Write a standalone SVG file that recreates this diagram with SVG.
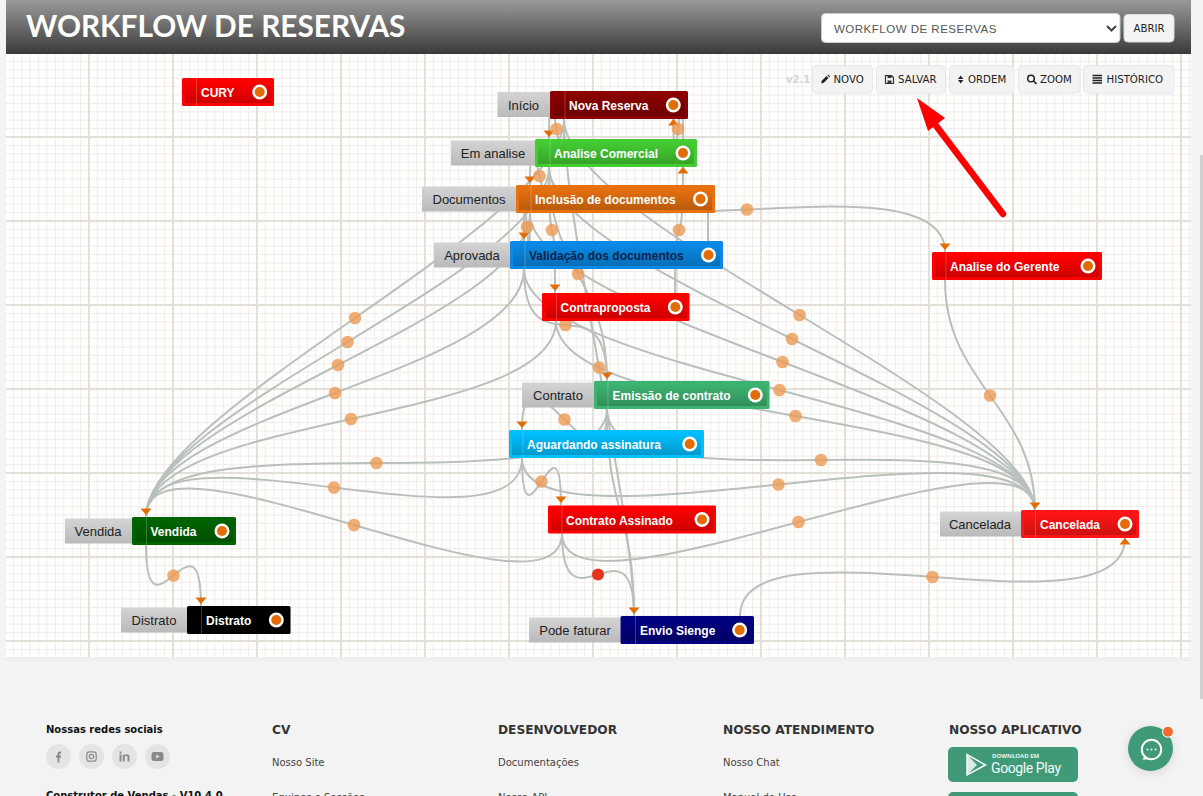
<svg xmlns="http://www.w3.org/2000/svg" width="1203" height="796" viewBox="0 0 1203 796">
<style>
.e{fill:none;stroke:#b9c0bb;stroke-width:2}
.d{marker-end:url(#ad)}
.u{marker-end:url(#au)}
.o{fill:#ec9a55;fill-opacity:.8}
.n{font:bold 12px "Liberation Sans",Arial,sans-serif;fill:#fff}
.l{font:13px "Liberation Sans",Arial,sans-serif;fill:#222;text-anchor:middle}
.lb{fill:url(#lg)}
.sh{fill:url(#sg)}
.vl{fill:#fff;fill-opacity:.22}
.w{fill:#fff}
.c{fill:#e36c04}
.b{fill:#f3f3f3;stroke:#e7e7e7}
.t{font:10.2px "DejaVu Sans",Verdana,sans-serif;fill:#222}
.h{font:bold 12.2px "DejaVu Sans",Verdana,sans-serif;fill:#333}
.f{font:10px "DejaVu Sans",Verdana,sans-serif;fill:#444}
.s{fill:#e4e4e4}
.si{fill:#8a8a8a}
</style>
<defs>
<pattern id="grid" patternUnits="userSpaceOnUse" x="4" y="52" width="84" height="84">
<rect width="84" height="84" fill="#fff"/>
<path d="M9.400 0V84M17.800 0V84M26.200 0V84M34.600 0V84M43 0V84M51.400 0V84M59.800 0V84M68.200 0V84M76.600 0V84M0 9.400H84M0 17.800H84M0 26.200H84M0 34.600H84M0 43H84M0 51.400H84M0 59.800H84M0 68.200H84M0 76.600H84" fill="none" stroke="#f1edea" stroke-width="1"/>
<path d="M1 0V84M0 1H84" fill="none" stroke="#e5dfda" stroke-width="2"/>
</pattern>
<linearGradient id="hg" x1="0" y1="0" x2="0" y2="1"><stop offset="0" stop-color="#9a9a9a"/><stop offset="1" stop-color="#3a3a3a"/></linearGradient>
<linearGradient id="lg" x1="0" y1="0" x2="0" y2="1"><stop offset="0" stop-color="#d4d4d4"/><stop offset="1" stop-color="#bababa"/></linearGradient>
<linearGradient id="sg" x1="0" y1="0" x2="0" y2="1"><stop offset="0" stop-color="#000" stop-opacity="0"/><stop offset="1" stop-color="#000" stop-opacity=".2"/></linearGradient>
<marker id="ad" markerUnits="userSpaceOnUse" markerWidth="6.500" markerHeight="11" refX="8.500" refY="5.500" orient="auto" overflow="visible"><path d="M0 0L6.500 5.500L0 11z" fill="#e36c04"/></marker>
<marker id="au" markerUnits="userSpaceOnUse" markerWidth="6.500" markerHeight="11" refX="6.500" refY="5.500" orient="auto" overflow="visible"><path d="M0 0L6.500 5.500L0 11z" fill="#e36c04"/></marker>
<filter id="sd" x="-40%" y="-40%" width="180%" height="180%"><feDropShadow dx="0" dy="2" stdDeviation="5" flood-color="#000" flood-opacity=".12"/></filter>
</defs>
<rect width="1203" height="796" fill="#f3f3f3"/>
<rect x="6" y="54" width="1185" height="603" fill="url(#grid)"/>
<rect x="6" y="657" width="1185" height="4" fill="#f0eeec"/>
<rect x="1200" y="155" width="3" height="544" fill="#d0d0d0"/>

<g id="header">
<rect x="6" y="0" width="1185" height="54" fill="url(#hg)"/>
<text x="26" y="37" style="font:bold 29.800px Lato,'Liberation Sans',sans-serif" fill="#fff">WORKFLOW DE RESERVAS</text>
<rect x="821.500" y="13.500" width="298.500" height="29" rx="4" fill="#fff" stroke="#ccc"/>
<text x="834" y="33" style="font:11.500px 'Liberation Sans',Arial,sans-serif;letter-spacing:.5px" fill="#555">WORKFLOW DE RESERVAS</text>
<path d="M1107 26l4.500 4.500l4.500-4.500" fill="none" stroke="#444" stroke-width="2"/>
<rect x="1124" y="14.500" width="50" height="27.500" rx="4" fill="#f4f4f4" stroke="#ddd"/>
<text x="1149" y="32" class="t" text-anchor="middle">ABRIR</text>
</g>

<g id="toolbar">
<text x="786" y="83" style="font:bold 10px 'DejaVu Sans',Verdana,sans-serif" fill="#d4d4d4">v2.1</text>
<rect class="b" x="812.500" y="65.500" width="60" height="27.500" rx="4"/>
<path d="M821 83.500l.8-2.800l4.700-4.700l2 2l-4.700 4.700zM827.300 75.200l.8-.8l2 2l-.8.8z" fill="#222"/>
<text class="t" x="833.500" y="83">NOVO</text>
<rect class="b" x="876.500" y="65.500" width="69" height="27.500" rx="4"/>
<path d="M885.500 75.500h6l2 2v6h-8z" fill="none" stroke="#333" stroke-width="1.200"/><rect x="887.500" y="75.500" width="4" height="2.500" fill="#333"/><rect x="887.500" y="80.500" width="4" height="3" fill="#333"/>
<text class="t" x="898" y="83">SALVAR</text>
<rect class="b" x="949.500" y="65.500" width="64.500" height="27.500" rx="4"/>
<path d="M958 79l2.700-3.500l2.700 3.500zM958 80l2.700 3.500l2.700-3.500z" fill="#222"/>
<text class="t" x="968" y="83">ORDEM</text>
<rect class="b" x="1018.500" y="65.500" width="61.500" height="27.500" rx="4"/>
<circle cx="1031" cy="78.500" r="3.300" fill="none" stroke="#222" stroke-width="1.500"/><path d="M1033.500 81l3 3" stroke="#222" stroke-width="1.700"/>
<text class="t" x="1040" y="83">ZOOM</text>
<rect class="b" x="1083.500" y="65.500" width="90.500" height="27.500" rx="4"/>
<path d="M1092.500 75.500h9.500M1092.500 78h9.500M1092.500 80.500h9.500M1092.500 83h9.500" stroke="#222" stroke-width="1.500"/>
<text class="t" x="1106.500" y="83">HISTÓRICO</text>
</g>

<g id="connectors">
<path class="e" d="M564 119C564 224 146 412 146 517"/>
<path class="e" d="M549 167C549 272 146 412 146 517"/>
<path class="e" d="M530 213C530 318 146 412 146 517"/>
<path class="e" d="M524 269C524 374 146 412 146 517"/>
<path class="e" d="M556 321C556 426 146 412 146 517"/>
<path class="e" d="M607 409C607 514 146 412 146 517"/>
<path class="e" d="M522 458C522 563 146 412 146 517"/>
<path class="e d" d="M562 533C562 638 146 412 146 517"/>
<path class="e" d="M564 119C564 224 1035 406 1035 511"/>
<path class="e" d="M549 167C549 272 1035 406 1035 511"/>
<path class="e" d="M530 213C530 318 1035 406 1035 511"/>
<path class="e" d="M524 269C524 374 1035 406 1035 511"/>
<path class="e" d="M556 321C556 426 1035 406 1035 511"/>
<path class="e" d="M607 409C607 514 1035 406 1035 511"/>
<path class="e" d="M522 458C522 563 1035 406 1035 511"/>
<path class="e" d="M562 533C562 638 1035 406 1035 511"/>
<path class="e d" d="M945 280C945 385 1035 406 1035 511"/>
<path class="e u" d="M740 616C740 511 1125 643 1125 538"/>
<path class="e d" d="M564 119C564 224 549 34 549 139"/>
<path class="e d" d="M549 167C549 272 530 80 530 185"/>
<path class="e d" d="M530 213C530 318 524 136 524 241"/>
<path class="e d" d="M549 167C549 272 555 188 555 293"/>
<path class="e" d="M549 167C549 272 607 276 607 381"/>
<path class="e d" d="M524 269C524 374 607 276 607 381"/>
<path class="e d" d="M607 409C607 514 522 325 522 430"/>
<path class="e d" d="M522 458C522 563 561 400 561 505"/>
<path class="e" d="M564 119C564 224 634 511 634 616"/>
<path class="e" d="M607 409C607 514 634 511 634 616"/>
<path class="e d" d="M562 533C562 638 634 511 634 616"/>
<path class="e d" d="M146 545C146 650 201 501 201 606"/>
<path class="e d" d="M549 167C549 272 945 147 945 252"/>
<path class="e u" d="M683 139C683 34 673.500 224 673.500 119"/>
<path class="e u" d="M675 293C675 188 683 272 683 167"/>
<path class="e" d="M708 213V241"/>
<g id="connector-dots">
<circle class="o" cx="556.500" cy="129" r="6.300"/><circle class="o" cx="539.500" cy="176" r="6.300"/><circle class="o" cx="527" cy="227" r="6.300"/><circle class="o" cx="552" cy="230" r="6.300"/><circle class="o" cx="578" cy="274" r="6.300"/><circle class="o" cx="565.500" cy="325" r="6.300"/><circle class="o" cx="599" cy="367.500" r="6.300"/><circle class="o" cx="564.500" cy="419.500" r="6.300"/><circle class="o" cx="541.500" cy="481.500" r="6.300"/>
<circle class="o" cx="678" cy="129" r="6.300"/><circle class="o" cx="679" cy="230" r="6.300"/><circle class="o" cx="747" cy="209.500" r="6.300"/><circle class="o" cx="990" cy="395.500" r="6.300"/><circle class="o" cx="173.500" cy="575.500" r="6.300"/><circle class="o" cx="932.500" cy="577" r="6.300"/>
<circle class="o" cx="355" cy="318" r="6.300"/><circle class="o" cx="347.500" cy="342" r="6.300"/><circle class="o" cx="338" cy="365" r="6.300"/><circle class="o" cx="335" cy="393" r="6.300"/><circle class="o" cx="351" cy="419" r="6.300"/><circle class="o" cx="376.500" cy="463" r="6.300"/><circle class="o" cx="334" cy="487.500" r="6.300"/><circle class="o" cx="354" cy="525" r="6.300"/>
<circle class="o" cx="799.500" cy="315" r="6.300"/><circle class="o" cx="792" cy="339" r="6.300"/><circle class="o" cx="782.500" cy="362" r="6.300"/><circle class="o" cx="779.500" cy="390" r="6.300"/><circle class="o" cx="795.500" cy="416" r="6.300"/><circle class="o" cx="821" cy="460" r="6.300"/><circle class="o" cx="778.500" cy="484.500" r="6.300"/><circle class="o" cx="798.500" cy="522" r="6.300"/>
<circle cx="598" cy="574.500" r="6" fill="#e5341a"/>
</g>
</g>

<g id="node-cury"><rect x="182" y="78" width="92" height="28" rx="1.500" fill="#f00"/><rect class="sh" x="185" y="81" width="86" height="22"/><rect class="vl" x="196" y="78" width="1" height="28"/><text class="n" x="201" y="96.500">CURY</text><circle class="w" cx="259.700" cy="92" r="7.500"/><circle class="c" cx="259.700" cy="92" r="5"/></g>

<g id="node-nova-reserva"><rect class="lb" x="497.500" y="92" width="52.500" height="25"/><text class="l" x="523.500" y="110">Início</text><rect x="550" y="91" width="138" height="28" rx="1.500" fill="#8b0000"/><rect class="sh" x="553" y="94" width="132" height="22"/><rect class="vl" x="564.500" y="91" width="1" height="28"/><text class="n" x="569" y="109.500">Nova Reserva</text><circle class="w" cx="673.300" cy="105" r="7.500"/><circle class="c" cx="673.300" cy="105" r="5"/></g>

<g id="node-analise-comercial"><rect class="lb" x="451" y="140.500" width="84" height="25"/><text class="l" x="493" y="158">Em analise</text><rect x="535" y="139" width="162" height="28" rx="1.500" fill="#44cc33"/><rect class="sh" x="538" y="142" width="156" height="22"/><rect class="vl" x="549.500" y="139" width="1" height="28"/><text class="n" x="554" y="157.500">Analise Comercial</text><circle class="w" cx="683" cy="153" r="7.500"/><circle class="c" cx="683" cy="153" r="5"/></g>

<g id="node-inclusao"><rect class="lb" x="422" y="186.500" width="94" height="25"/><text class="l" x="469" y="204">Documentos</text><rect x="516" y="185" width="199" height="28" rx="1.500" fill="#e8710f"/><rect class="sh" x="519" y="188" width="193" height="22"/><rect class="vl" x="530.500" y="185" width="1" height="28"/><text class="n" x="535" y="203.500">Inclusão de documentos</text><circle class="w" cx="700.500" cy="199" r="7.500"/><circle class="c" cx="700.500" cy="199" r="5"/></g>

<g id="node-validacao"><rect class="lb" x="434" y="242.500" width="76" height="25"/><text class="l" x="472" y="260">Aprovada</text><rect x="510" y="241" width="213" height="28" rx="1.500" fill="#0a8ae6"/><rect class="sh" x="513" y="244" width="207" height="22"/><rect class="vl" x="524.500" y="241" width="1" height="28"/><text class="n" x="529" y="259.500" style="fill:#07244a">Validação dos documentos</text><circle class="w" cx="708.500" cy="255" r="7.500"/><circle class="c" cx="708.500" cy="255" r="5"/></g>

<g id="node-contraproposta"><rect x="542" y="293" width="147.500" height="28" rx="1.500" fill="#f00"/><rect class="sh" x="545" y="296" width="141.500" height="22"/><rect class="vl" x="556" y="293" width="1" height="28"/><text class="n" x="560.500" y="311.500">Contraproposta</text><circle class="w" cx="675.300" cy="307" r="7.500"/><circle class="c" cx="675.300" cy="307" r="5"/></g>

<g id="node-analise-gerente"><rect x="932" y="252" width="170" height="28" rx="1.500" fill="#f00"/><rect class="sh" x="935" y="255" width="164" height="22"/><rect class="vl" x="945.500" y="252" width="1" height="28"/><text class="n" x="950" y="270.500">Analise do Gerente</text><circle class="w" cx="1088" cy="266" r="7.500"/><circle class="c" cx="1088" cy="266" r="5"/></g>

<g id="node-emissao"><rect class="lb" x="522" y="382.500" width="72" height="25"/><text class="l" x="558" y="400">Contrato</text><rect x="594" y="381" width="175.500" height="28" rx="1.500" fill="#3cb371"/><rect class="sh" x="597" y="384" width="169.500" height="22"/><rect class="vl" x="607.500" y="381" width="1" height="28"/><text class="n" x="612.500" y="399.500">Emissão de contrato</text><circle class="w" cx="755.300" cy="395" r="7.500"/><circle class="c" cx="755.300" cy="395" r="5"/></g>

<g id="node-aguardando"><rect x="509" y="430" width="195" height="28" rx="1.500" fill="#00bfff"/><rect class="sh" x="512" y="433" width="189" height="22"/><rect class="vl" x="522.500" y="430" width="1" height="28"/><text class="n" x="527" y="448.500">Aguardando assinatura</text><circle class="w" cx="689.700" cy="444" r="7.500"/><circle class="c" cx="689.700" cy="444" r="5"/></g>

<g id="node-contrato-assinado"><rect x="548" y="505.500" width="168" height="28" rx="1.500" fill="#f00"/><rect class="sh" x="551" y="508.500" width="162" height="22"/><rect class="vl" x="561.500" y="505.500" width="1" height="28"/><text class="n" x="566" y="524.500">Contrato Assinado</text><circle class="w" cx="702" cy="519.500" r="7.500"/><circle class="c" cx="702" cy="519.500" r="5"/></g>

<g id="node-vendida"><rect class="lb" x="65" y="518.500" width="67" height="25"/><text class="l" x="98" y="536">Vendida</text><rect x="132" y="517" width="104" height="28" rx="1.500" fill="#006400"/><rect class="sh" x="135" y="520" width="98" height="22"/><rect class="vl" x="146" y="517" width="1" height="28"/><text class="n" x="150.500" y="535.500">Vendida</text><circle class="w" cx="222" cy="531" r="7.500"/><circle class="c" cx="222" cy="531" r="5"/></g>

<g id="node-distrato"><rect class="lb" x="121" y="607.500" width="66" height="25"/><text class="l" x="154" y="625">Distrato</text><rect x="187" y="606" width="103.500" height="28" rx="1.500" fill="#000"/><rect class="vl" x="201" y="606" width="1" height="28"/><text class="n" x="206" y="624.500">Distrato</text><circle class="w" cx="276.300" cy="620" r="7.500"/><circle class="c" cx="276.300" cy="620" r="5"/></g>

<g id="node-envio-sienge"><rect class="lb" x="529" y="617.500" width="91.500" height="25"/><text class="l" x="575" y="635">Pode faturar</text><rect x="620.500" y="616" width="133.500" height="28" rx="1.500" fill="#000080"/><rect class="sh" x="623.500" y="619" width="127.500" height="22"/><rect class="vl" x="635" y="616" width="1" height="28"/><text class="n" x="640" y="634.500">Envio Sienge</text><circle class="w" cx="739.700" cy="630" r="7.500"/><circle class="c" cx="739.700" cy="630" r="5"/></g>

<g id="node-cancelada"><rect class="lb" x="940" y="511.500" width="81" height="25"/><text class="l" x="980" y="529">Cancelada</text><rect x="1021" y="510" width="118" height="28" rx="1.500" fill="#ff1515"/><rect class="sh" x="1024" y="513" width="112" height="22"/><rect class="vl" x="1035" y="510" width="1" height="28"/><text class="n" x="1040" y="529">Cancelada</text><circle class="w" cx="1125" cy="524" r="7.500"/><circle class="c" cx="1125" cy="524" r="5"/></g>

<g id="annotation-arrow">
<path d="M1003 214L934 123" fill="none" stroke="#f00" stroke-width="6.500" stroke-linecap="round"/>
<path d="M917 98L945 118L928 131z" fill="#f00"/>
</g>

<g id="footer">
<text x="46" y="733" style="font:bold 10px 'DejaVu Sans',Verdana,sans-serif" fill="#111">Nossas redes sociais</text>
<circle class="s" cx="58.500" cy="756.500" r="12.500"/><path class="si" d="M57.500 762.500v-5h-1.500v-2h1.500v-1.500c0-1.500 1-2.500 2.300-2.500h1.400v2h-1c-.6 0-.8.300-.8.800v1.200h1.800l-.3 2h-1.500v5z"/>
<circle class="s" cx="91.500" cy="756.500" r="12.500"/><rect x="86.800" y="751.800" width="9.400" height="9.400" rx="2.500" fill="none" stroke="#8a8a8a" stroke-width="1.200"/><circle cx="91.500" cy="756.500" r="2.200" fill="none" stroke="#8a8a8a" stroke-width="1.200"/>
<circle class="s" cx="124.500" cy="756.500" r="12.500"/><path class="si" d="M119.500 754.500h2v7h-2zM119.500 751.500h2v2h-2zM122.800 754.500h2v1c.5-.8 1.300-1.200 2.200-1.200c1.800 0 2.500 1.200 2.500 3v4.200h-2v-3.800c0-1-.3-1.600-1.200-1.600s-1.500.7-1.500 1.700v3.700h-2z"/>
<circle class="s" cx="157.500" cy="756.500" r="12.500"/><rect x="151.500" y="752" width="12" height="9" rx="2.500" fill="#8a8a8a"/><path d="M156.300 754.500l3.200 2l-3.200 2z" fill="#e4e4e4"/>
<text x="46" y="799" style="font:bold 10px 'DejaVu Sans',Verdana,sans-serif" fill="#111">Construtor de Vendas - V10.4.0</text>
<text class="h" x="272" y="734">CV</text>
<text class="h" x="498" y="734">DESENVOLVEDOR</text>
<text class="h" x="723" y="734">NOSSO ATENDIMENTO</text>
<text class="h" x="949" y="734">NOSSO APLICATIVO</text>
<text class="f" x="272" y="766">Nosso Site</text>
<text class="f" x="498" y="766">Documentações</text>
<text class="f" x="723" y="766">Nosso Chat</text>
<text class="f" x="272" y="801">Equipes e Sessões</text>
<text class="f" x="498" y="801">Nossa API</text>
<text class="f" x="723" y="801">Manual do Uso</text>
<rect x="948" y="747" width="130" height="35" rx="5" fill="#409a78"/>
<path d="M967 754.500V775L985.500 765z" fill="none" stroke="#f4f9f7" stroke-width="1.500"/>
<path d="M967 754.500L977 765L967 775z" fill="#f4f9f7" fill-opacity=".85"/>
<text x="992" y="757.500" style="font:bold 6px 'Open Sans',sans-serif" fill="#e8f2ee">DOWNLOAD EM</text>
<text x="991" y="773" style="font:14px Roboto,sans-serif;letter-spacing:-.4px" fill="#f4f9f7">Google Play</text>
<rect x="948" y="792" width="130" height="10" rx="5" fill="#409a78"/>
</g>

<g id="chat">
<circle cx="1150.500" cy="748.500" r="22.500" fill="#409a78" filter="url(#sd)"/>
<circle cx="1151.500" cy="749.500" r="9.700" fill="none" stroke="#fff" stroke-width="2"/>
<path d="M1145 755.500l-2.500 4h6.500z" fill="#fff"/>
<circle cx="1147.500" cy="749.500" r="1" fill="#fff"/><circle cx="1151.500" cy="749.500" r="1" fill="#fff"/><circle cx="1155.500" cy="749.500" r="1" fill="#fff"/>
<circle cx="1168" cy="731.700" r="6" fill="#fff"/><circle cx="1168" cy="731.700" r="5" fill="#f26a2e"/>
</g>
</svg>
